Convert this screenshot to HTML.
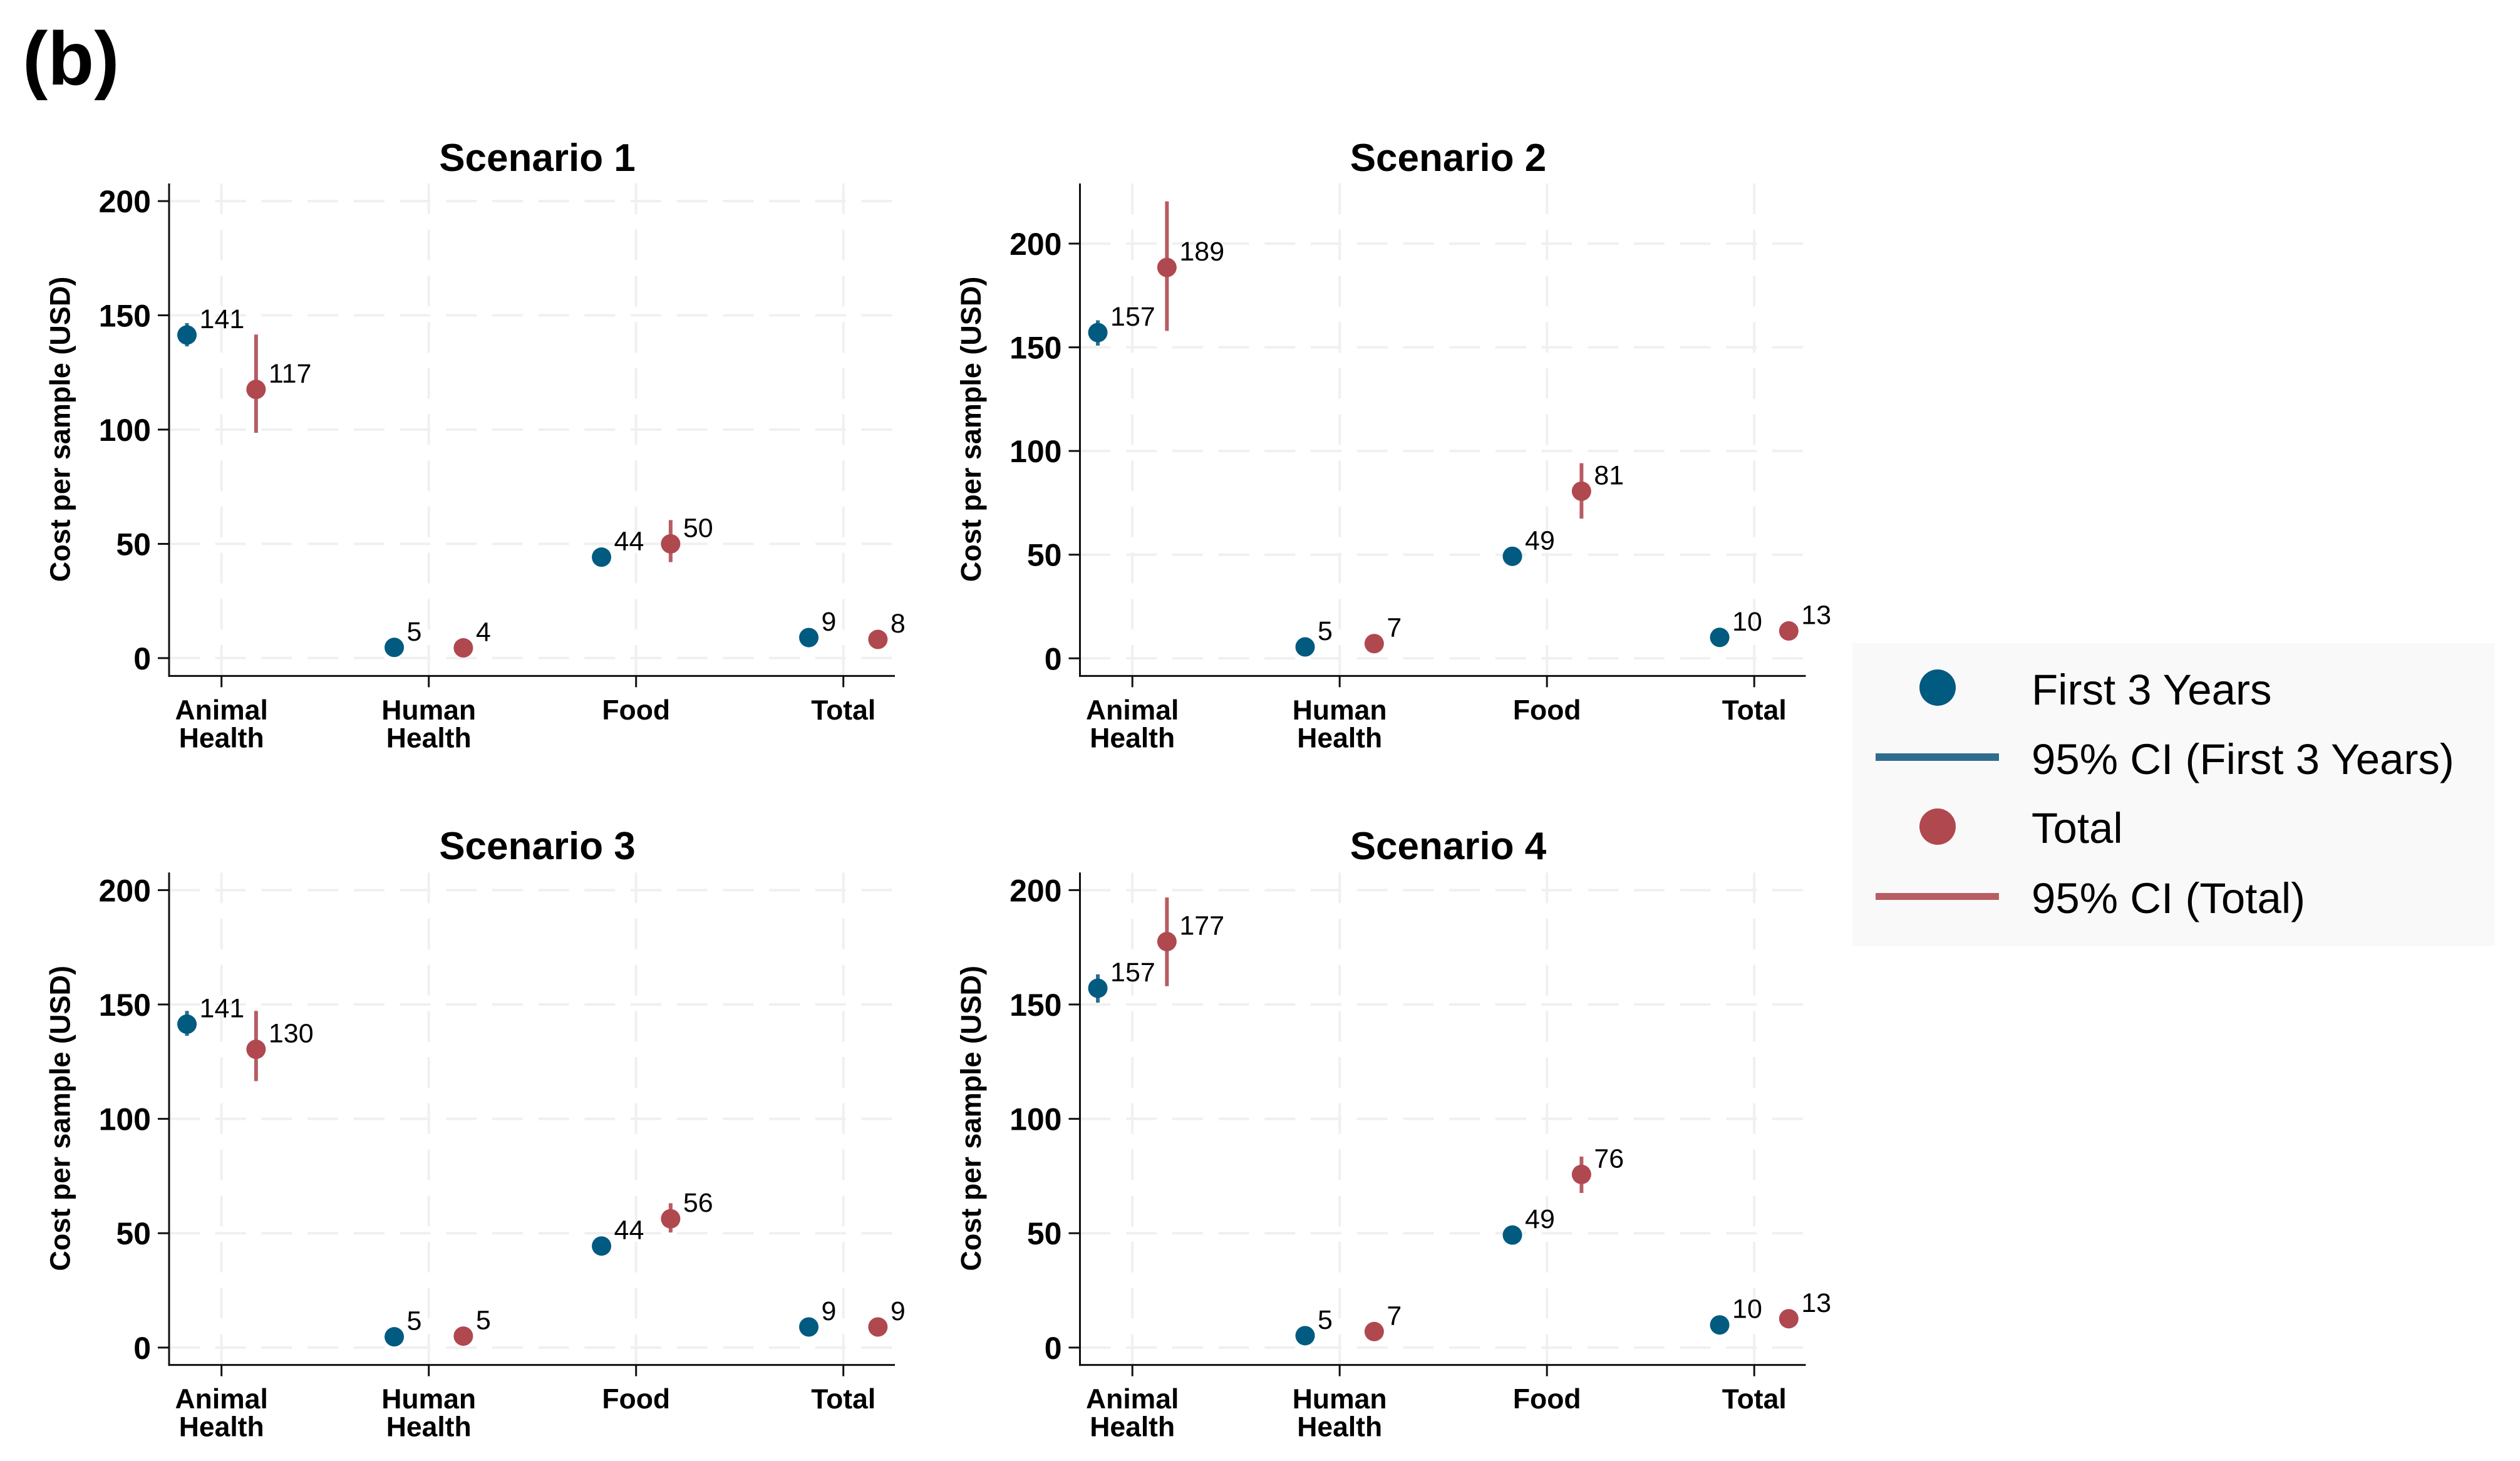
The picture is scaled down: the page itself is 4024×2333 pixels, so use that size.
<!DOCTYPE html>
<html lang="en">
<head>
<meta charset="utf-8">
<title>Cost per sample by scenario</title>
<style>
html,body{margin:0;padding:0;background:#fff;width:4024px;height:2333px;overflow:hidden}
svg{display:block}
text{font-family:"Liberation Sans",Arial,sans-serif;fill:#000}
.bold{font-weight:700}
</style>
</head>
<body>
<svg id="figure" xmlns="http://www.w3.org/2000/svg" width="4024" height="2333" viewBox="0 0 4024 2333">
  <rect x="0" y="0" width="4024" height="2333" fill="#ffffff"/>
  <text class="bold" x="36" y="135" font-size="121">(b)</text>
  <g>
    <rect x="2958" y="1027" width="1026" height="484" fill="#f9f9f9"/>
    <circle cx="3094" cy="1098" r="29" fill="#015a80"/>
    <text x="3244" y="1125" font-size="69">First 3 Years</text>
    <rect x="2995" y="1203" width="197" height="12" fill="#2f6d8e"/>
    <text x="3244" y="1236" font-size="69">95% CI (First 3 Years)</text>
    <circle cx="3094" cy="1320" r="29" fill="#b0484f"/>
    <text x="3244" y="1346" font-size="69">Total</text>
    <rect x="2995" y="1426" width="197" height="11" fill="#b75d63"/>
    <text x="3244" y="1458" font-size="69">95% CI (Total)</text>
  </g>
</svg>
<script>
// ---- chart data ----
const categories = [["Animal", "Health"], ["Human", "Health"], ["Food"], ["Total"]];
const scenarioTitles = ["Scenario 1", "Scenario 2", "Scenario 3", "Scenario 4"];
const yTicks = [0, 50, 100, 150, 200];
const yDomainMin = [-7.8, -8.5, -7.6, -7.6];
const yDomainMax = [207.7, 229, 207.7, 207.7];

const s1First = [141.4, 4.7, 44.2, 9];
const s1FirstLow = [136.4, 4, 42.5, 8];
const s1FirstHigh = [146.6, 5.5, 46, 10];
const s1FirstPrinted = ["141", "5", "44", "9"];
const s1Total = [117.6, 4.5, 50, 8.2];
const s1TotalLow = [98.6, 4, 42, 7.5];
const s1TotalHigh = [141.6, 5, 60.4, 9];
const s1TotalPrinted = ["117", "4", "50", "8"];

const s2First = [157.1, 5.5, 49.2, 10.1];
const s2FirstLow = [150.8, 5, 47, 9];
const s2FirstHigh = [163, 6, 51, 11];
const s2FirstPrinted = ["157", "5", "49", "10"];
const s2Total = [188.5, 7.1, 80.6, 13.2];
const s2TotalLow = [157.9, 6, 67.4, 11];
const s2TotalHigh = [220.4, 8, 94.1, 15];
const s2TotalPrinted = ["189", "7", "81", "13"];

const s3First = [141.4, 4.7, 44.4, 9];
const s3FirstLow = [136.3, 4, 42.5, 8];
const s3FirstHigh = [147.2, 5.5, 46, 10];
const s3FirstPrinted = ["141", "5", "44", "9"];
const s3Total = [130.4, 5, 56.3, 9];
const s3TotalLow = [116.5, 4, 50.3, 8];
const s3TotalHigh = [147.2, 6, 63.1, 10];
const s3TotalPrinted = ["130", "5", "56", "9"];

const s4First = [157.1, 5.2, 49.2, 9.9];
const s4FirstLow = [150.8, 4.5, 47, 9];
const s4FirstHigh = [163.2, 6, 51, 11];
const s4FirstPrinted = ["157", "5", "49", "10"];
const s4Total = [177.5, 7, 75.7, 12.6];
const s4TotalLow = [158, 6, 67.6, 11];
const s4TotalHigh = [196.8, 8, 83.5, 14];
const s4TotalPrinted = ["177", "7", "76", "13"];

const firstValues = [s1First, s2First, s3First, s4First];
const firstLows = [s1FirstLow, s2FirstLow, s3FirstLow, s4FirstLow];
const firstHighs = [s1FirstHigh, s2FirstHigh, s3FirstHigh, s4FirstHigh];
const firstPrinted = [s1FirstPrinted, s2FirstPrinted, s3FirstPrinted, s4FirstPrinted];
const totalValues = [s1Total, s2Total, s3Total, s4Total];
const totalLows = [s1TotalLow, s2TotalLow, s3TotalLow, s4TotalLow];
const totalHighs = [s1TotalHigh, s2TotalHigh, s3TotalHigh, s4TotalHigh];
const totalPrinted = [s1TotalPrinted, s2TotalPrinted, s3TotalPrinted, s4TotalPrinted];

// ---- drawing ----
const NS = "http://www.w3.org/2000/svg";
const svg = document.getElementById("figure");
const BLUE = "#015a80", BLUE_CI = "#2f6d8e", RED = "#b0484f", RED_CI = "#b75d63";
const GRID = "#f0f0f0", AXIS = "#111111";

function mk(parent, tag, attrs, txt) {
  const el = document.createElementNS(NS, tag);
  for (const k in attrs) el.setAttribute(k, attrs[k]);
  if (txt !== undefined) el.textContent = txt;
  parent.appendChild(el);
  return el;
}

function drawPanel(p) {
  const col = p % 2, row = Math.floor(p / 2);
  const left = 270 + col * 1454.5;
  const right = left + 1159;
  const top = 293 + row * 1100.3;
  const bottom = 1079.4 + row * 1100.2;
  const yMin = yDomainMin[p], yMax = yDomainMax[p];
  const yS = v => bottom - (v - yMin) / (yMax - yMin) * (bottom - top);
  const xS = u => left + 83.7 + 331 * u;

  const g = mk(svg, "g", {});
  
  

  const title = mk(g, "text", {x: left + 588, y: 273 + row * 1099, "font-size": 62, "class": "bold", "text-anchor": "middle"}, scenarioTitles[p]);
  
  

  yTicks.forEach(t => {
    const gl = mk(g, "line", {x1: left, x2: right, y1: yS(t), y2: yS(t), stroke: GRID, "stroke-width": 4, "stroke-dasharray": "49 24.7"});
    
    
  });
  categories.forEach((c, i) => {
    const gl = mk(g, "line", {x1: xS(i), x2: xS(i), y1: top, y2: bottom, stroke: GRID, "stroke-width": 4, "stroke-dasharray": "49 24.7"});
    
    
  });

  const yAxis = mk(g, "line", {x1: left, x2: left, y1: top, y2: bottom + 1.5, stroke: AXIS, "stroke-width": 3});
  
  
  const xAxis = mk(g, "line", {x1: left - 1.5, x2: right, y1: bottom, y2: bottom, stroke: AXIS, "stroke-width": 3});
  
  

  yTicks.forEach(t => {
    const tk = mk(g, "line", {x1: left - 18, x2: left, y1: yS(t), y2: yS(t), stroke: AXIS, "stroke-width": 3});
    
    
    const lb = mk(g, "text", {x: left - 29, y: yS(t) + 18, "font-size": 50, "class": "bold", "text-anchor": "end"}, String(t));
    
    
  });

  categories.forEach((c, i) => {
    const tk = mk(g, "line", {x1: xS(i), x2: xS(i), y1: bottom, y2: bottom + 18, stroke: AXIS, "stroke-width": 3});
    
    
    c.forEach((word, n) => {
      const lb = mk(g, "text", {x: xS(i), y: bottom + 69.5 + n * 44.5, "font-size": 44.5, "class": "bold", "text-anchor": "middle"}, word);
      
      
    });
  });

  const yt = mk(g, "text", {transform: "translate(" + (left - 158.5) + "," + (685.5 + row * 1100.3) + ") rotate(-90)", "font-size": 45, "class": "bold", "text-anchor": "middle"}, "Cost per sample (USD)");
  
  

  const drawSeries = (name, shift, vals, lows, highs, printed, color, ciColor) => {
    categories.forEach((c, i) => {
      const x = xS(i + shift);
      const ci = mk(g, "line", {x1: x, x2: x, y1: yS(lows[i]), y2: yS(highs[i]), stroke: ciColor, "stroke-width": 6});
      
      
      const dot = mk(g, "circle", {cx: x, cy: yS(vals[i]), r: 15.5, fill: color});
      
      
      const lb = mk(g, "text", {x: x + 20, y: yS(vals[i]) - 11, "font-size": 43}, printed[i]);
      
      
    });
  };
  drawSeries("first-3-years", -1 / 6, firstValues[p], firstLows[p], firstHighs[p], firstPrinted[p], BLUE, BLUE_CI);
  drawSeries("total", 1 / 6, totalValues[p], totalLows[p], totalHighs[p], totalPrinted[p], RED, RED_CI);
}

scenarioTitles.forEach((t, p) => drawPanel(p));
</script>
</body>
</html>
